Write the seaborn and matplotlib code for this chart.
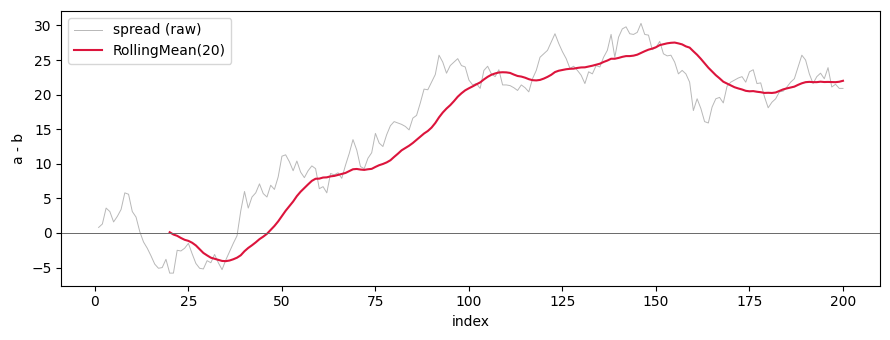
import numpy as np
import pandas as pd
import matplotlib
matplotlib.use("Agg")
import matplotlib.pyplot as plt
import seaborn as sns

index = list(range(1, 201))
spread = [
    0.8, 1.3, 3.6, 3.1, 1.6, 2.4, 3.4, 5.8, 5.6, 3.1,
    2.3, 0.2, -1.3, -2.2, -3.3, -4.5, -5.1, -5.0, -3.8, -5.8,
    -5.8, -2.5, -2.6, -2.2, -1.5, -3.0, -4.4, -5.1, -5.2, -4.0,
    -4.3, -3.1, -4.3, -5.3, -3.9, -2.7, -1.5, -0.4, 3.2, 6.0,
    3.6, 5.2, 5.8, 7.1, 5.7, 5.2, 6.9, 6.3, 8.1, 11.1,
    11.3, 10.3, 9.0, 10.4, 8.8, 8.0, 9.0, 9.7, 9.3, 6.4,
    6.7, 5.8, 8.6, 8.4, 8.7, 7.9, 9.8, 11.5, 13.5, 12.0,
    9.6, 9.3, 10.8, 11.6, 14.4, 13.0, 12.5, 14.2, 15.5, 16.1,
    15.9, 15.7, 15.4, 14.9, 16.6, 17.0, 18.8, 20.8, 20.7, 21.8,
    22.9, 25.7, 24.7, 23.1, 24.2, 24.7, 25.2, 24.2, 24.0, 22.1,
    21.4, 21.6, 20.9, 23.5, 24.1, 23.0, 22.6, 23.6, 21.4, 21.4,
    21.3, 21.0, 20.6, 21.4, 21.0, 20.4, 22.3, 23.5, 25.4, 25.9,
    26.4, 27.6, 28.8, 27.4, 26.2, 25.2, 23.8, 24.1, 23.5, 22.8,
    21.6, 23.3, 23.0, 24.2, 24.0, 25.4, 26.4, 28.7, 25.4, 28.3,
    29.5, 29.8, 28.8, 28.7, 29.0, 30.3, 28.7, 28.6, 26.5, 26.8,
    27.7, 25.9, 25.6, 25.7, 24.7, 23.0, 23.5, 23.0, 21.8, 17.7,
    19.4, 18.0, 16.1, 15.9, 18.2, 19.4, 19.6, 18.8, 21.2, 21.8,
    22.1, 22.4, 22.6, 21.8, 23.3, 23.6, 21.6, 21.7, 19.7, 18.1,
    18.9, 19.4, 20.4, 20.5, 21.1, 21.8, 22.3, 24.0, 25.7, 25.0,
    23.0, 21.6, 22.6, 23.1, 22.3, 23.9, 21.1, 21.5, 20.9, 20.9,
]
window = 20

df = pd.DataFrame({"index": index, "spread": spread})
df["rolling"] = df["spread"].rolling(window).mean()

fig, ax = plt.subplots(figsize=(8.9, 3.4), dpi=100)
sns.lineplot(data=df, x="index", y="spread", ax=ax, color="#a0a0a0",
             linewidth=0.7, alpha=0.75, label="spread (raw)")
sns.lineplot(data=df, x="index", y="rolling", ax=ax, color="crimson",
             linewidth=1.5, label=f"RollingMean({window})")
ax.axhline(0, color="dimgray", linewidth=0.7)
ax.set_xlabel("index")
ax.set_ylabel("a - b")
ax.set_xticks([0, 25, 50, 75, 100, 125, 150, 175, 200])
ax.set_yticks([-5, 0, 5, 10, 15, 20, 25, 30])
ax.legend(loc="upper left")
fig.subplots_adjust(left=0.069, right=0.989, top=0.968, bottom=0.16)
fig.savefig("out.png", dpi=100)
